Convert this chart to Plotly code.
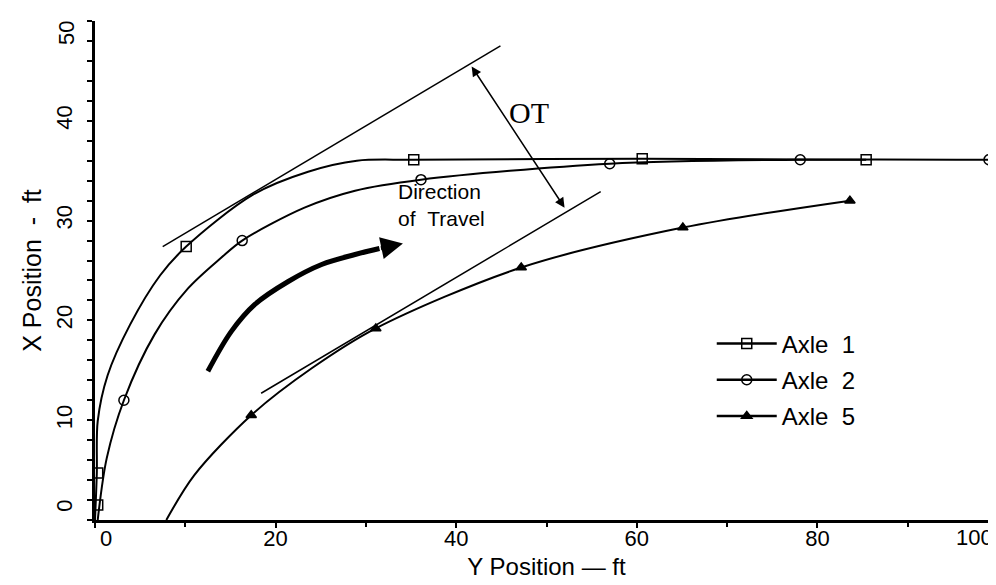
import plotly.graph_objects as go

# ---- data (Y position = horizontal, X position = vertical) ----
axle1_path_y = [0.0, 0.2, 0.3, 1.4, 3.9, 7.2, 10.1, 17.5, 23.6, 29.0, 35.3, 60.6, 85.4]
axle1_path_x = [0.0, 4.7, 9.9, 14.5, 19.6, 24.5, 27.4, 32.6, 34.9, 36.0, 36.1, 36.2, 36.1]
axle1_mark_y = [0.3, 0.3, 10.1, 35.3, 60.6, 85.4]
axle1_mark_x = [1.5, 4.7, 27.4, 36.1, 36.2, 36.1]

axle2_path_y = [0.3, 1.3, 3.2, 6.6, 10.3, 14.0, 16.3, 23.2, 28.8, 36.1, 57.0, 78.1, 99.0]
axle2_path_x = [0.0, 6.2, 12.0, 18.6, 23.2, 26.3, 28.0, 31.3, 33.0, 34.1, 35.7, 36.1, 36.1]
axle2_mark_y = [3.2, 16.3, 36.1, 57.0, 78.1, 99.0]
axle2_mark_x = [12.0, 28.0, 34.1, 35.7, 36.1, 36.1]

axle5_path_y = [7.9, 11.0, 17.3, 24.0, 31.1, 47.2, 65.1, 83.6]
axle5_path_x = [0.0, 4.5, 10.5, 15.2, 19.2, 25.3, 29.3, 32.0]
axle5_mark_y = [17.3, 31.1, 47.2, 65.1, 83.6]
axle5_mark_x = [10.5, 19.2, 25.3, 29.3, 32.0]

# tangent lines (offtracking construction)
tangent_outer_y = [7.5, 44.9]
tangent_outer_x = [27.4, 47.5]
tangent_inner_y = [18.4, 56.0]
tangent_inner_x = [12.7, 32.9]
ot_from = (41.6, 45.6)
ot_to = (52.0, 31.3)

# direction of travel arrow
travel_y = [12.5, 15.1, 17.7, 21.4, 25.1, 28.8, 31.5]
travel_x = [14.9, 18.9, 21.6, 23.9, 25.6, 26.6, 27.2]
travel_tip = (34.1, 27.7)

x_ticks = [0, 20, 40, 60, 80, 100]
y_ticks = [0, 10, 20, 30, 40, 50]
SP = "\u2002"
ZW = "\u200b"
# end labels (100, 50) are drawn as annotations so they can sit inward like in the original
x_ticktext = [ZW + SP * 2 + "0", "20", "40", "60", "80", ""]
y_ticktext = [ZW + SP * 2 + "0", "10", "20", "30", "40", ""]

FONT = "Liberation Sans"
fig = go.Figure()

series = [
    ("Axle\u00a0\u00a01", axle1_path_y, axle1_path_x, axle1_mark_y, axle1_mark_x, "square-open", 10),
    ("Axle\u00a0\u00a02", axle2_path_y, axle2_path_x, axle2_mark_y, axle2_mark_x, "circle-open", 10),
    ("Axle\u00a0\u00a05", axle5_path_y, axle5_path_x, axle5_mark_y, axle5_mark_x, "triangle-up", 9),
]
for i, (name, py, px, my, mx, sym, sz) in enumerate(series):
    fig.add_trace(go.Scatter(x=py, y=px, mode="lines",
                             line=dict(color="black", width=2, shape="spline", smoothing=0.9),
                             showlegend=False, hoverinfo="skip"))
    fig.add_trace(go.Scatter(x=my, y=mx, mode="markers", name=name, showlegend=False,
                             marker=dict(symbol=sym, size=sz, color="black", line=dict(color="black", width=1.5))))
    fig.add_trace(go.Scatter(x=[None], y=[None], mode="lines+markers", name=name, legendgroup=f"g{i}",
                             line=dict(color="black", width=2.5),
                             marker=dict(symbol=sym, size=sz, color="black", line=dict(color="black", width=1.5))))

for ty, tx in [(tangent_outer_y, tangent_outer_x), (tangent_inner_y, tangent_inner_x)]:
    fig.add_trace(go.Scatter(x=ty, y=tx, mode="lines", line=dict(color="black", width=1.5),
                             showlegend=False, hoverinfo="skip"))

fig.add_trace(go.Scatter(x=travel_y, y=travel_x, mode="lines",
                         line=dict(color="black", width=5, shape="spline", smoothing=1.0),
                         showlegend=False, hoverinfo="skip"))

tick_font = dict(family=FONT, size=22, color="black")
annotations = [
    dict(x=travel_tip[0], y=travel_tip[1], ax=travel_y[-1], ay=travel_x[-1], xref="x", yref="y", axref="x", ayref="y",
         showarrow=True, arrowhead=2, arrowsize=1.1, arrowwidth=4, arrowcolor="black", text=""),
    dict(x=ot_to[0], y=ot_to[1], ax=ot_from[0], ay=ot_from[1], xref="x", yref="y", axref="x", ayref="y",
         showarrow=True, arrowhead=2, startarrowhead=2, arrowside="end+start", arrowsize=1.3, startarrowsize=1.3,
         arrowwidth=1.5, arrowcolor="black", text=""),
    dict(x=48.1, y=40.8, xref="x", yref="y", text="OT", showarrow=False,
         font=dict(family="Liberation Serif", size=30, color="black")),
    dict(x=33.3, y=31.6, xref="x", yref="y", text="Direction<br>of\u00a0\u00a0Travel", showarrow=False, align="left",
         xanchor="left", yanchor="middle", font=dict(family=FONT, size=21, color="black")),
    # end tick labels
    dict(x=1, y=0, xref="paper", yref="paper", text=str(x_ticks[-1]), showarrow=False,
         xanchor="right", yanchor="middle", xshift=-3, yshift=-17, font=tick_font),
    dict(x=0, y=1, xref="paper", yref="paper", text=str(y_ticks[-1]), showarrow=False, textangle=-90,
         xanchor="center", yanchor="middle", xshift=-29, yshift=-12, font=tick_font),
]

axis_common = dict(showgrid=False, zeroline=False, showline=True, linecolor="black", linewidth=3,
                   ticks="outside", ticklen=5, tickwidth=1.5, tickcolor="black", automargin=False,
                   ticklabeloverflow="allow", tickfont=tick_font)

fig.update_layout(
    width=996, height=585,
    margin=dict(l=87, r=6, t=13, b=73),
    paper_bgcolor="white", plot_bgcolor="white",
    annotations=annotations,
    legend=dict(x=0.683, y=0.398, xanchor="left", yanchor="top", bgcolor="rgba(0,0,0,0)",
                font=dict(family=FONT, size=24, color="black"), tracegroupgap=2, itemwidth=60),
    xaxis=dict(range=[0, 100], tickvals=x_ticks, ticktext=x_ticktext, ticklabelstandoff=-8,
               minor=dict(dtick=10, ticks="outside", ticklen=4, tickcolor="black"),
               title=dict(text="Y Position — ft", font=dict(family=FONT, size=24, color="black"), standoff=8),
               **axis_common),
    yaxis=dict(range=[0, 50], tickvals=y_ticks, ticktext=y_ticktext, tickangle=-90, ticklabelstandoff=6,
               minor=dict(dtick=2, ticks="outside", ticklen=5, tickcolor="black"),
               title=dict(text="X Position\u00a0\u00a0-\u00a0\u00a0ft", font=dict(family=FONT, size=25, color="black"),
                          standoff=4),
               **axis_common),
)

fig.write_html("out.html")
